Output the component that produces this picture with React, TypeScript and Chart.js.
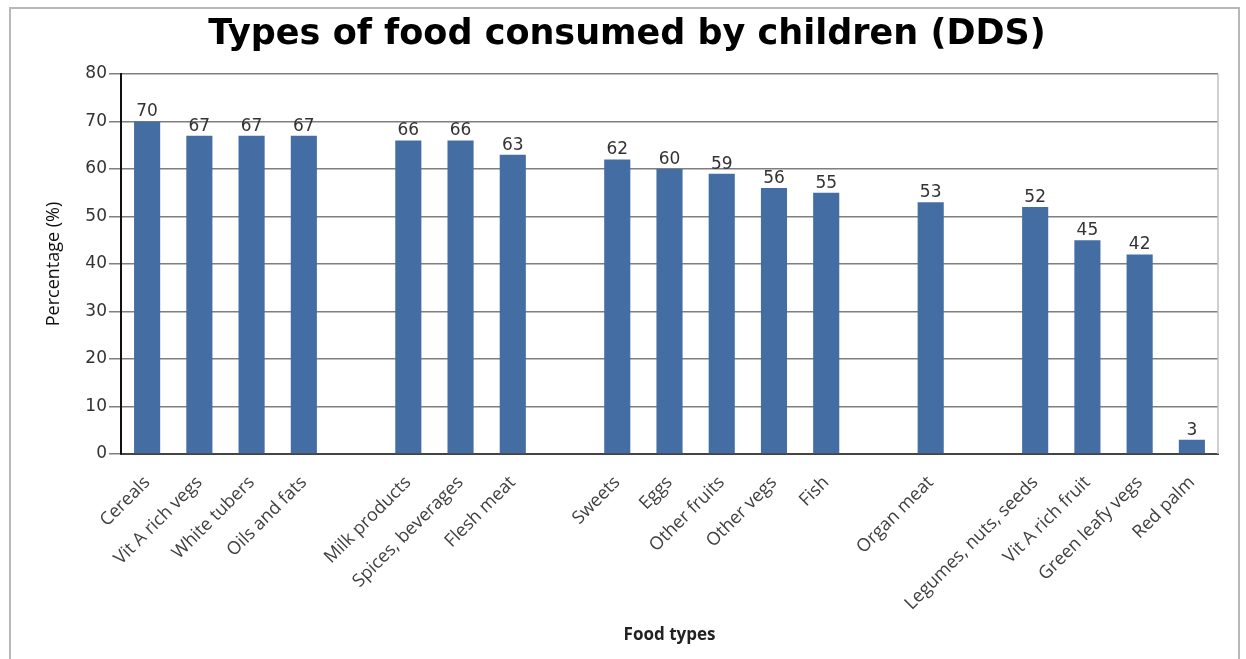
import React, { useEffect, useRef } from "react";
import { Chart, registerables } from "chart.js";

Chart.register(...registerables);

const TITLE = "Types of food consumed by children (DDS)";
const categories: string[] = [
  "Cereals", "Vit A rich vegs", "White tubers", "Oils and fats", "",
  "Milk products", "Spices, beverages", "Flesh meat", "",
  "Sweets", "Eggs", "Other fruits", "Other vegs", "Fish", "",
  "Organ meat", "",
  "Legumes, nuts, seeds", "Vit A rich fruit", "Green leafy vegs", "Red palm",
];
const percentages: (number | null)[] = [
  70, 67, 67, 67, null,
  66, 66, 63, null,
  62, 60, 59, 56, 55, null,
  53, null,
  52, 45, 42, 3,
];
const yTicks = [0, 10, 20, 30, 40, 50, 60, 70, 80];

const valueLabels = {
  id: "valueLabels",
  afterDatasetsDraw(chart: any) {
    const ctx = chart.ctx;
    const meta = chart.getDatasetMeta(0);
    ctx.save();
    ctx.font = "17px 'DejaVu Sans'";
    ctx.fillStyle = "#333333";
    ctx.textAlign = "center";
    ctx.textBaseline = "bottom";
    meta.data.forEach((el: any, i: number) => {
      const v = chart.data.datasets[0].data[i];
      if (v === null || v === undefined) return;
      ctx.fillText(String(v), el.x, el.y - 1);
    });
    ctx.restore();
  },
};

const plotFrame = {
  id: "plotFrame",
  afterDraw(chart: any) {
    const { ctx, chartArea } = chart;
    ctx.save();
    ctx.strokeStyle = "#c0c0c0";
    ctx.lineWidth = 1.5;
    ctx.beginPath();
    ctx.moveTo(chartArea.right, chartArea.top);
    ctx.lineTo(chartArea.right, chartArea.bottom);
    ctx.stroke();
    ctx.restore();
  },
};

export default function App() {
  const ref = useRef<HTMLCanvasElement>(null);
  useEffect(() => {
    if (!ref.current) return;
    const chart = new Chart(ref.current, {
      type: "bar",
      data: {
        labels: categories,
        datasets: [
          {
            data: percentages,
            backgroundColor: "#446ea3",
            borderWidth: 0,
            barPercentage: 0.5,
            categoryPercentage: 1,
          },
        ],
      },
      options: {
        animation: false,
        responsive: false,
        layout: { padding: { left: 36, right: 28, top: 0, bottom: 0 } },
        plugins: {
          legend: { display: false },
          tooltip: { enabled: false },
          title: {
            display: true,
            text: TITLE,
            color: "#000000",
            font: { family: "'DejaVu Sans'", size: 35, weight: "bold" },
            padding: { top: 14, bottom: 18 },
          },
        },
        scales: {
          x: {
            grid: { display: false },
            border: { display: true, color: "#444444", width: 2 },
            ticks: {
              autoSkip: false,
              minRotation: 45,
              maxRotation: 45,
              padding: 10,
              color: "#404040",
              font: { family: "'Open Sans'", size: 18 },
            },
            title: {
              display: true,
              text: "Food types",
              color: "#222222",
              font: { family: "'Open Sans'", size: 17, weight: "bold" },
              padding: { top: 0, bottom: 14 },
            },
            afterFit(scale: any) {
              scale.height = 205;
            },
          },
          y: {
            min: 0,
            max: 80,
            afterBuildTicks(scale: any) {
              scale.ticks = yTicks.map((v) => ({ value: v }));
            },
            grid: {
              color: "#7f7f7f",
              lineWidth: 1.5,
              tickLength: 12,
              drawTicks: true,
            },
            border: { display: true, color: "#111111", width: 2 },
            ticks: {
              padding: 2,
              color: "#333333",
              font: { family: "'DejaVu Sans'", size: 17 },
            },
            title: {
              display: true,
              text: "Percentage (%)",
              color: "#111111",
              font: { family: "'Open Sans'", size: 18 },
              padding: { top: 7, bottom: 0 },
            },
            afterFit(scale: any) {
              scale.width = 85;
            },
          },
        },
      },
      plugins: [valueLabels, plotFrame],
    });
    return () => chart.destroy();
  }, []);

  return (
    <div style={{ position: "fixed", left: 0, top: 0, width: 1246, height: 659, background: "#ffffff", overflow: "hidden" }}>
      <div
        style={{
          position: "absolute",
          left: 9,
          top: 7,
          width: 1231,
          height: 700,
          border: "2px solid #b8b8b8",
          boxSizing: "border-box",
        }}
      />
      <canvas ref={ref} width={1246} height={659} style={{ position: "absolute", left: 0, top: 0 }} />
    </div>
  );
}
